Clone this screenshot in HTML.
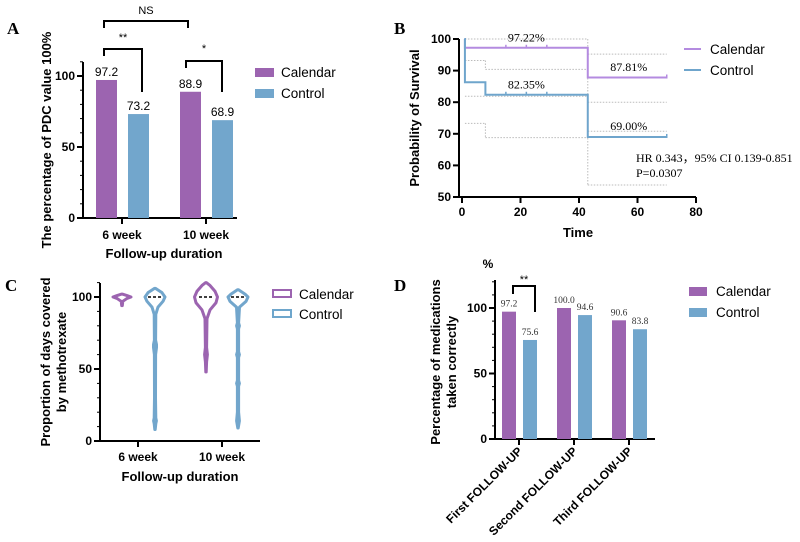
<!DOCTYPE html>
<html><head><meta charset="utf-8"><style>
body{margin:0;background:#fff;width:800px;height:542px;overflow:hidden}
svg{display:block;font-family:"Liberation Sans",sans-serif}
.t{font-size:12px;font-weight:bold}
.ti{font-size:13px;font-weight:bold}
.lg{font-size:13.5px}
.sv{font-family:"Liberation Serif",serif}
</style></head><body>
<svg id="fig" width="800" height="542" viewBox="0 0 800 542">
<text x="7" y="34" class="sv" font-size="17" font-weight="bold">A</text>
<text x="394" y="34" class="sv" font-size="17" font-weight="bold">B</text>
<text x="5" y="291" class="sv" font-size="17" font-weight="bold">C</text>
<text x="394" y="291" class="sv" font-size="17" font-weight="bold">D</text>

<text transform="translate(51,140) rotate(-90)" text-anchor="middle" class="ti">The percentage of PDC value 100%</text>
<text x="164" y="258" text-anchor="middle" class="ti">Follow-up duration</text>
<rect x="255" y="68" width="19" height="9" fill="#9c64b0"/>
<text x="281" y="77" class="lg">Calendar</text>
<rect x="255" y="89" width="19" height="9" fill="#72a6cc"/>
<text x="281" y="98" class="lg">Control</text>

<text transform="translate(419,118) rotate(-90)" text-anchor="middle" class="ti">Probability of Survival</text>
<text x="578" y="237" text-anchor="middle" class="ti">Time</text>
<line x1="684" y1="49" x2="701" y2="49" stroke="#b48be0" stroke-width="2"/>
<text x="710" y="54" class="lg">Calendar</text>
<line x1="684" y1="70" x2="701" y2="70" stroke="#6fa5cc" stroke-width="2"/>
<text x="710" y="75" class="lg">Control</text>
<text x="636" y="162" class="sv" font-size="12">HR 0.343，95% CI 0.139-0.851</text>
<text x="636" y="177" class="sv" font-size="12">P=0.0307</text>

<text transform="translate(50,362) rotate(-90)" text-anchor="middle" class="ti"><tspan x="0" dy="0">Proportion of days covered</tspan><tspan x="0" dy="16">by methotrexate</tspan></text>
<text x="180" y="481" text-anchor="middle" class="ti">Follow-up duration</text>
<rect x="273" y="290" width="18" height="7" fill="none" stroke="#9c64b0" stroke-width="2"/>
<text x="299" y="299" class="lg">Calendar</text>
<rect x="273" y="310" width="18" height="7" fill="none" stroke="#6ea6cc" stroke-width="2"/>
<text x="299" y="319" class="lg">Control</text>

<text x="488" y="268" text-anchor="middle" class="t">%</text>
<text transform="translate(440,362) rotate(-90)" text-anchor="middle" class="ti"><tspan x="0" dy="0">Percentage of medications</tspan><tspan x="0" dy="16">taken correctly</tspan></text>
<rect x="689" y="287" width="18" height="9" fill="#9c64b0"/>
<text x="716" y="296" class="lg">Calendar</text>
<rect x="689" y="308" width="18" height="9" fill="#72a6cc"/>
<text x="716" y="317" class="lg">Control</text>
</svg>
<script>
const aCategories = ["6 week", "10 week"];
const aCalendar = [97.2, 88.9];
const aControl = [73.2, 68.9];
const aTicks = [0, 50, 100];

const bTicksX = [0, 20, 40, 60, 80];
const bTicksY = [50, 60, 70, 80, 90, 100];
const bCalTimes = [0.8, 1, 43, 70];
const bCalSurv = [100, 97.22, 87.81, 87.81];
const bCtlTimes = [0.8, 1, 8, 43, 70];
const bCtlSurv = [100, 86.3, 82.35, 69.0, 69.0];
const bCensor = [15, 22, 29];
const bLabels = ["97.22%", "87.81%", "82.35%", "69.00%"];
const bLabelT = [22, 57, 22, 57];
const bLabelV = [99.2, 89.8, 84.4, 71.2];
const bCI = [[1,43,100],[43,70,95.2],[1,8,93.2],[8,43,90.4],[1,43,81.9],[43,70,80],[1,8,73.3],[8,43,68.8],[43,70,70.8],[43,70,53.8]];

const cCategories = ["6 week", "10 week"];
const cTicks = [0, 50, 100];
const cCal6 = [[94,0.3],[97,0.8],[99,5],[100,9],[101,5],[102,0.3]];
const cCtl6 = [[8,0.2],[12,0.8],[14,1.4],[16,0.8],[30,0.5],[60,0.6],[65,1.5],[67,1.5],[70,0.6],[88,0.8],[93,3],[97,8],[100,10],[103,7],[106,0.5]];
const cCal10 = [[48,0.2],[55,0.6],[60,1.4],[65,0.6],[85,1],[91,4],[96,10],[100,11.5],[104,9],[108,4],[110,0.3]];
const cCtl10 = [[9,0.2],[14,1.4],[20,0.6],[38,0.6],[40,1.4],[42,0.6],[58,0.6],[60,1.4],[62,0.6],[78,0.6],[80,1.4],[82,0.6],[93,1.5],[97,8],[100,10],[102,7],[105,0.5]];

const dCategories = ["First FOLLOW-UP", "Second FOLLOW-UP", "Third FOLLOW-UP"];
const dCalendar = [97.2, 100.0, 90.6];
const dControl = [75.6, 94.6, 83.8];
const dTicks = [0, 50, 100];

const PURPLE = "#9c64b0", BLUE = "#72a6cc", KMP = "#b48be0", KMB = "#6fa5cc";
const svg = document.getElementById('fig');
const NS = "http://www.w3.org/2000/svg";
function mk(tag, attrs, txt) {
  const e = document.createElementNS(NS, tag);
  for (const k in attrs) e.setAttribute(k, attrs[k]);
  if (txt !== undefined) e.textContent = txt;
  svg.appendChild(e);
  return e;
}
function axisY(x, y0, y1, ticks, scale, minorStep, maxV, prefix) {
  const ax = mk('line', {x1:x, y1:y0, x2:x, y2:y1, stroke:'#000', 'stroke-width':2});
  
  
  if (minorStep) for (let v = 0; v <= maxV; v += minorStep) {
    const m = mk('line', {x1:x-3, y1:scale(v), x2:x, y2:scale(v), stroke:'#000', 'stroke-width':1});
    
    
  }
  ticks.forEach(v => {
    const t = mk('line', {x1:x-6, y1:scale(v), x2:x, y2:scale(v), stroke:'#000', 'stroke-width':2});
    
    
    const l = mk('text', {x:x-8, y:scale(v)+4, 'text-anchor':'end', class:'t'}, v);
    
    
  });
}
function axisX(y, x0, x1, prefix) {
  const ax = mk('line', {x1:x0, y1:y, x2:x1, y2:y, stroke:'#000', 'stroke-width':2});
  
  
}
function bracket(pts, label, lx, ly, prefix) {
  const p = mk('polyline', {points:pts.map(q=>q.join(',')).join(' '), fill:'none', stroke:'#000', 'stroke-width':2});
  
  
  const t = mk('text', {x:lx, y:ly, 'text-anchor':'middle', 'font-size':11}, label);
  
  
}

// Panel A
const yA = v => 218 - v * 1.42;
const xA = i => 122 + i * 84;
axisY(83, 62, 219, aTicks, yA, 10, 110, 'a');
axisX(218, 82, 237, 'a');
aCategories.forEach((c, i) => {
  const tk = mk('line', {x1:xA(i), y1:218, x2:xA(i), y2:224, stroke:'#000', 'stroke-width':2});
  
  
  const lb = mk('text', {x:xA(i), y:239, 'text-anchor':'middle', class:'t'}, c);
  
  
  [[aCalendar[i], -26, PURPLE, 'calendar'], [aControl[i], 6, BLUE, 'control']].forEach(([v, off, col, nm]) => {
    const r = mk('rect', {x:xA(i)+off, y:yA(v), width:21, height:218-yA(v), fill:col});
    
    
    const t = mk('text', {x:xA(i)+off+10.5, y:yA(v)-4, 'text-anchor':'middle', 'font-size':12}, v.toFixed(1));
    
    
  });
});
bracket([[104,56],[104,49],[142,49],[142,92]], '**', 123, 41, 'a');
bracket([[186,68],[186,61],[222,61],[222,92]], '*', 204, 52, 'a');
bracket([[104,28],[104,21],[188,21],[188,28]], 'NS', 146, 14, 'a');

// Panel B
const xB = t => 462 + t * 2.925;
const yB = v => 39 + (100 - v) * 3.16;
bCI.forEach(([t1, t2, v]) => {
  const l = mk('line', {x1:xB(t1), y1:yB(v), x2:xB(t2), y2:yB(v), stroke:'#bbb', 'stroke-width':1, 'stroke-dasharray':'1.5,1.5'});
  
  
});
[[43,100,53.8],[8,93.2,90.4],[8,73.3,68.8]].forEach(([t, a, b]) => {
  const l = mk('line', {x1:xB(t), y1:yB(a), x2:xB(t), y2:yB(b), stroke:'#bbb', 'stroke-width':1, 'stroke-dasharray':'1.5,1.5'});
  
  
});
function stepPath(ts, vs) {
  let d = 'M' + xB(ts[0]) + ',' + yB(vs[0]);
  for (let i = 1; i < ts.length; i++) d += 'H' + xB(ts[i]) + 'V' + yB(vs[i]);
  return d;
}
[[bCalTimes, bCalSurv, KMP, 'calendar'], [bCtlTimes, bCtlSurv, KMB, 'control']].forEach(([ts, vs, col, nm]) => {
  const p = mk('path', {d:stepPath(ts, vs), fill:'none', stroke:col, 'stroke-width':2});
  
  
  bCensor.forEach(t => {
    let v = vs[0];
    for (let i = 0; i < ts.length; i++) if (ts[i] <= t) v = vs[i];
    const c = mk('line', {x1:xB(t), y1:yB(v)-3, x2:xB(t), y2:yB(v), stroke:col, 'stroke-width':1.5});
    
    
  });
  const e = ts.length - 1;
  const c2 = mk('line', {x1:xB(ts[e]), y1:yB(vs[e])-3, x2:xB(ts[e]), y2:yB(vs[e])+1, stroke:col, 'stroke-width':1.5});
  
  
});
bLabels.forEach((s, i) => {
  const t = mk('text', {x:xB(bLabelT[i]), y:yB(bLabelV[i]), 'text-anchor':'middle', class:'sv', 'font-size':12}, s);
  
  
});
axisY(459, 39, 198, bTicksY, yB, 0, 0, 'b');
axisX(197, 458, 696, 'b');
bTicksX.forEach(t => {
  const tk = mk('line', {x1:xB(t), y1:197, x2:xB(t), y2:203, stroke:'#000', 'stroke-width':2});
  
  
  const lb = mk('text', {x:xB(t), y:216, 'text-anchor':'middle', class:'t'}, t);
  
  
});

// Panel C
const yC = v => 441 - v * 1.44;
const xC = i => 138 + i * 84;
axisY(100, 283, 442, cTicks, yC, 10, 110, 'c');
axisX(441, 99, 260, 'c');
function violin(prof, cx, col, nm) {
  let d = 'M' + cx + ',' + yC(prof[0][0]);
  prof.forEach(([v, w]) => d += 'L' + (cx + w) + ',' + yC(v));
  for (let i = prof.length - 1; i >= 0; i--) d += 'L' + (cx - prof[i][1]) + ',' + yC(prof[i][0]);
  d += 'Z';
  const p = mk('path', {d:d, fill:'#fff', stroke:col, 'stroke-width':3, 'stroke-linejoin':'round'});
  
  
}
violin(cCal6, xC(0)-16, PURPLE, 'calendar-6wk');
violin(cCtl6, xC(0)+17, BLUE, 'control-6wk');
violin(cCal10, xC(1)-16, PURPLE, 'calendar-10wk');
violin(cCtl10, xC(1)+16, BLUE, 'control-10wk');
[xC(0)+17, xC(1)-16, xC(1)+16].forEach(cx => {
  const m = mk('line', {x1:cx-7, y1:yC(100), x2:cx+7, y2:yC(100), stroke:'#000', 'stroke-width':1.5, 'stroke-dasharray':'3,2'});
  
  
});
cCategories.forEach((c, i) => {
  const tk = mk('line', {x1:xC(i), y1:441, x2:xC(i), y2:447, stroke:'#000', 'stroke-width':2});
  
  
  const lb = mk('text', {x:xC(i), y:461, 'text-anchor':'middle', class:'t'}, c);
  
  
});

// Panel D
const yD = v => 439 - v * 1.31;
const xD = i => 519 + i * 55;
axisY(495, 280, 440, dTicks, yD, 10, 120, 'd');
axisX(439, 494, 655, 'd');
dCategories.forEach((c, i) => {
  const tk = mk('line', {x1:xD(i), y1:439, x2:xD(i), y2:445, stroke:'#000', 'stroke-width':2});
  
  
  const lb = mk('text', {x:0, y:0, 'text-anchor':'end', class:'t', transform:'translate(' + (xD(i)+4) + ',452) rotate(-45)'}, c);
  
  
  [[dCalendar[i], -17, PURPLE, 'calendar'], [dControl[i], 4, BLUE, 'control']].forEach(([v, off, col, nm]) => {
    const r = mk('rect', {x:xD(i)+off, y:yD(v), width:14, height:439-yD(v), fill:col});
    
    
    const t = mk('text', {x:xD(i)+off+7, y:yD(v)-5, 'text-anchor':'middle', class:'sv', 'font-size':9.5, fill:'#333'}, v.toFixed(1));
    
    
  });
});
bracket([[513,294],[513,286],[535,286],[535,312]], '**', 524, 283, 'd');
</script>
</body></html>
